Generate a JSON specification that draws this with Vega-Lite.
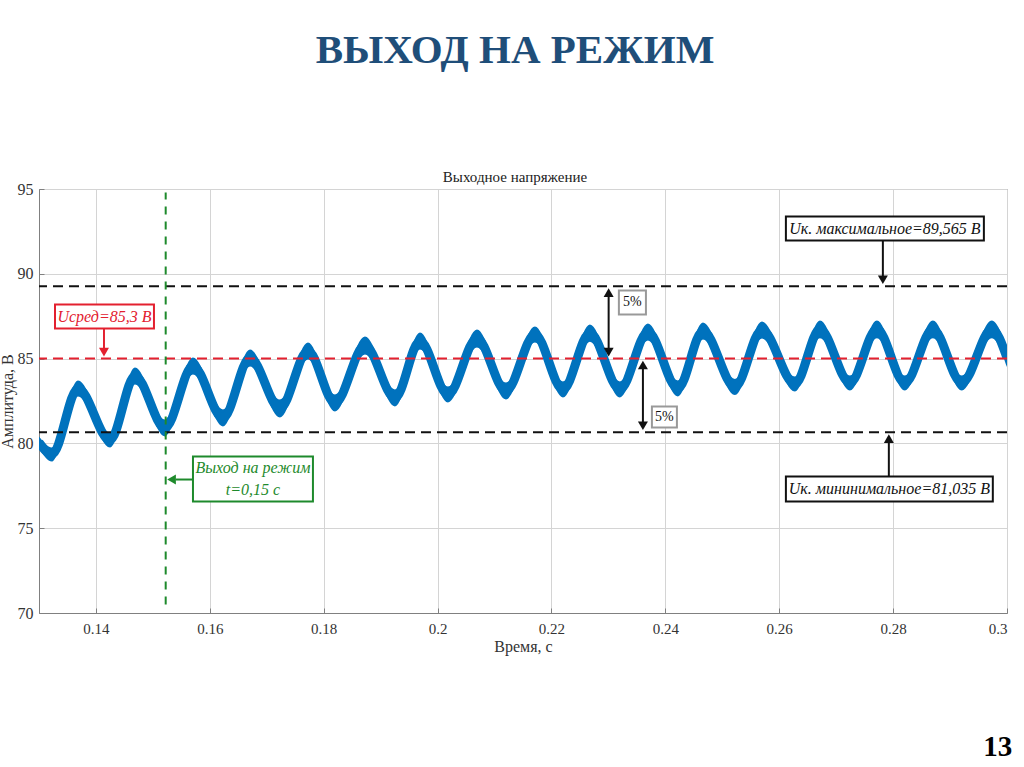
{
  "$schema": "https://vega.github.io/schema/vega-lite/v6.json",
  "autosize": {"type": "none"},
  "width": 968,
  "height": 424,
  "padding": {"left": 39, "top": 189, "right": 17, "bottom": 154},
  "background": "white",
  "config": {
    "view": {"stroke": "#808080", "strokeWidth": 1},
    "font": "Liberation Serif"
  },
  "title": {
    "text": "ВЫХОД НА РЕЖИМ",
    "subtitle": "Выходное напряжение",
    "font": "Liberation Serif",
    "fontSize": 41,
    "fontWeight": "bold",
    "color": "#1F4E79",
    "subtitleFont": "Liberation Serif",
    "subtitleFontSize": 15,
    "subtitleColor": "#222222",
    "subtitlePadding": 98,
    "offset": -5,
    "dx": -8,
    "anchor": "middle"
  },
  "datasets": {
    "band": [
      {"t": 0.1300, "lo": 79.70, "hi": 80.41, "mid": 80.06},
      {"t": 0.13228, "lo": 78.93, "hi": 79.76, "mid": 79.35},
      {"t": 0.13685, "lo": 82.77, "hi": 83.71, "mid": 83.24},
      {"t": 0.14247, "lo": 79.76, "hi": 80.64, "mid": 80.20},
      {"t": 0.14686, "lo": 83.47, "hi": 84.48, "mid": 83.98},
      {"t": 0.15212, "lo": 80.41, "hi": 81.41, "mid": 80.91},
      {"t": 0.15704, "lo": 84.06, "hi": 85.06, "mid": 84.56},
      {"t": 0.16231, "lo": 81.00, "hi": 82.00, "mid": 81.50},
      {"t": 0.16705, "lo": 84.53, "hi": 85.54, "mid": 85.04},
      {"t": 0.17232, "lo": 81.53, "hi": 82.59, "mid": 82.06},
      {"t": 0.17723, "lo": 84.95, "hi": 85.95, "mid": 85.45},
      {"t": 0.18198, "lo": 81.88, "hi": 82.88, "mid": 82.38},
      {"t": 0.18724, "lo": 85.24, "hi": 86.30, "mid": 85.77},
      {"t": 0.19251, "lo": 82.18, "hi": 83.18, "mid": 82.68},
      {"t": 0.19690, "lo": 85.54, "hi": 86.54, "mid": 86.04},
      {"t": 0.20182, "lo": 82.41, "hi": 83.35, "mid": 82.88},
      {"t": 0.20691, "lo": 85.65, "hi": 86.72, "mid": 86.19},
      {"t": 0.21200, "lo": 82.59, "hi": 83.59, "mid": 83.09},
      {"t": 0.21709, "lo": 85.95, "hi": 86.89, "mid": 86.42},
      {"t": 0.22201, "lo": 82.71, "hi": 83.65, "mid": 83.18},
      {"t": 0.22675, "lo": 86.00, "hi": 87.01, "mid": 86.51},
      {"t": 0.23202, "lo": 82.71, "hi": 83.65, "mid": 83.18},
      {"t": 0.23694, "lo": 86.07, "hi": 87.07, "mid": 86.57},
      {"t": 0.24220, "lo": 82.77, "hi": 83.71, "mid": 83.24},
      {"t": 0.24660, "lo": 86.13, "hi": 87.13, "mid": 86.63},
      {"t": 0.25222, "lo": 82.85, "hi": 83.80, "mid": 83.33},
      {"t": 0.25695, "lo": 86.19, "hi": 87.19, "mid": 86.69},
      {"t": 0.26275, "lo": 83.06, "hi": 83.94, "mid": 83.50},
      {"t": 0.26714, "lo": 86.20, "hi": 87.25, "mid": 86.73},
      {"t": 0.27241, "lo": 83.12, "hi": 84.00, "mid": 83.56},
      {"t": 0.27715, "lo": 86.20, "hi": 87.25, "mid": 86.73},
      {"t": 0.28206, "lo": 83.12, "hi": 84.00, "mid": 83.56},
      {"t": 0.28698, "lo": 86.20, "hi": 87.25, "mid": 86.73},
      {"t": 0.29207, "lo": 83.12, "hi": 84.00, "mid": 83.56},
      {"t": 0.29734, "lo": 86.20, "hi": 87.25, "mid": 86.73},
      {"t": 0.3000, "lo": 84.50, "hi": 85.60, "mid": 85.05}
    ],
    "levels": [
      {"who": "max", "v": 89.27},
      {"who": "avg", "v": 85.0},
      {"who": "min", "v": 80.66}
    ],
    "mode": [
      {"t": 0.15225, "y1": 70.5, "y2": 94.8}
    ],
    "boxes": [
      {"who": "avg", "x1": 0.13281, "x2": 0.15019, "y1": 86.77, "y2": 88.19, "text": "Uсред=85,3 В", "tx": 0.1415, "ty": 87.48},
      {"who": "mode", "x1": 0.15704, "x2": 0.17811, "y1": 76.57, "y2": 79.23, "text": "Выход на режим\nt=0,15 с", "tx": 0.16757, "ty": 78.55},
      {"who": "max", "x1": 0.26117, "x2": 0.29594, "y1": 91.96, "y2": 93.38, "text": "Uк. максимальное=89,565 В", "tx": 0.27856, "ty": 92.67},
      {"who": "min", "x1": 0.26117, "x2": 0.29751, "y1": 76.57, "y2": 78.05, "text": "Uк. мининимальное=81,035 В", "tx": 0.27934, "ty": 77.31},
      {"who": "pct", "x1": 0.23184, "x2": 0.23659, "y1": 87.60, "y2": 89.02, "text": "5%", "tx": 0.23421, "ty": 88.31},
      {"who": "pct", "x1": 0.23764, "x2": 0.24203, "y1": 80.94, "y2": 82.18, "text": "5%", "tx": 0.23984, "ty": 81.56}
    ],
    "arrows": [
      {"who": "avg", "x1": 0.14141, "x2": 0.14141, "y1": 86.77, "y2": 85.5},
      {"who": "mode", "x1": 0.15704, "x2": 0.1540, "y1": 77.87, "y2": 77.87},
      {"who": "max", "x1": 0.2782, "x2": 0.2782, "y1": 91.96, "y2": 89.8},
      {"who": "min", "x1": 0.27925, "x2": 0.27925, "y1": 78.05, "y2": 80.1},
      {"who": "pct", "x1": 0.23004, "x2": 0.23004, "y1": 88.8, "y2": 85.5},
      {"who": "pct", "x1": 0.23606, "x2": 0.23606, "y1": 84.5, "y2": 81.1}
    ],
    "heads": [
      {"who": "avg", "x": 0.14141, "y": 85.38, "dir": "down"},
      {"who": "mode", "x": 0.15328, "y": 77.87, "dir": "left"},
      {"who": "max", "x": 0.2782, "y": 89.65, "dir": "down"},
      {"who": "min", "x": 0.27925, "y": 80.28, "dir": "up"},
      {"who": "pct", "x": 0.23004, "y": 88.89, "dir": "up"},
      {"who": "pct", "x": 0.23004, "y": 85.38, "dir": "down"},
      {"who": "pct", "x": 0.23606, "y": 84.62, "dir": "up"},
      {"who": "pct", "x": 0.23606, "y": 81.04, "dir": "down"}
    ],
    "page": [
      {"x": 0.29839, "y": 62.07, "label": "13"}
    ]
  },
  "layer": [
    {
      "data": {"name": "band"},
      "mark": {"type": "area", "interpolate": "monotone", "color": "#0072BD", "clip": true},
      "encoding": {
        "x": {
          "field": "t", "type": "quantitative",
          "scale": {"domain": [0.13, 0.3], "nice": false, "zero": false},
          "axis": {
            "title": "Время, с",
            "values": [0.14, 0.16, 0.18, 0.2, 0.22, 0.24, 0.26, 0.28, 0.3],
            "format": ".2~f",
            "grid": true, "gridColor": "#d4d4d4", "gridWidth": 1,
            "domainColor": "#808080",
            "tickColor": "#808080", "tickSize": -5,
            "labelFont": "Liberation Serif", "labelFontSize": 15, "labelColor": "#333333",
            "labelPadding": 13,
            "titleFont": "Liberation Serif", "titleFontSize": 16, "titleFontWeight": "normal", "titleColor": "#333333",
            "titlePadding": 2
          }
        },
        "y": {
          "field": "hi", "type": "quantitative",
          "scale": {"domain": [70, 95], "nice": false, "zero": false},
          "axis": {
            "title": "Амплитуда, В",
            "values": [70, 75, 80, 85, 90, 95],
            "grid": true, "gridColor": "#d4d4d4", "gridWidth": 1,
            "domainColor": "#808080",
            "tickColor": "#808080", "tickSize": -5,
            "labelFont": "Liberation Serif", "labelFontSize": 16, "labelColor": "#333333",
            "labelPadding": 11,
            "titleFont": "Liberation Serif", "titleFontSize": 16, "titleFontWeight": "normal", "titleColor": "#333333",
            "titlePadding": 2
          }
        },
        "y2": {"field": "lo"}
      }
    },
    {
      "data": {"name": "band"},
      "mark": {"type": "line", "interpolate": "monotone", "color": "#0072BD", "strokeWidth": 9, "strokeCap": "butt", "clip": true},
      "encoding": {
        "x": {"field": "t", "type": "quantitative"},
        "y": {"field": "mid", "type": "quantitative"}
      }
    },
    {
      "data": {"name": "levels"},
      "mark": {"type": "rule", "strokeDash": [10, 6], "strokeWidth": 2},
      "encoding": {
        "y": {"field": "v", "type": "quantitative"},
        "color": {
          "field": "who", "type": "nominal", "legend": null,
          "scale": {"domain": ["avg", "mode", "max", "min", "pct"], "range": ["#E3202F", "#1E8A2C", "#111111", "#111111", "#111111"]}
        }
      }
    },
    {
      "data": {"name": "mode"},
      "mark": {"type": "rule", "strokeDash": [8, 7], "strokeWidth": 2, "color": "#1E8A2C"},
      "encoding": {
        "x": {"field": "t", "type": "quantitative"},
        "y": {"field": "y1", "type": "quantitative"},
        "y2": {"field": "y2"}
      }
    },
    {
      "data": {"name": "arrows"},
      "mark": {"type": "rule", "strokeWidth": 2},
      "encoding": {
        "x": {"field": "x1", "type": "quantitative"},
        "x2": {"field": "x2"},
        "y": {"field": "y1", "type": "quantitative"},
        "y2": {"field": "y2"},
        "color": {"field": "who", "type": "nominal", "legend": null}
      }
    },
    {
      "data": {"name": "heads"},
      "mark": {"type": "point", "filled": true, "size": 100, "opacity": 1},
      "encoding": {
        "x": {"field": "x", "type": "quantitative"},
        "y": {"field": "y", "type": "quantitative"},
        "shape": {
          "field": "dir", "type": "nominal", "legend": null,
          "scale": {"domain": ["up", "down", "left"], "range": ["triangle-up", "triangle-down", "triangle-left"]}
        },
        "color": {"field": "who", "type": "nominal", "legend": null}
      }
    },
    {
      "data": {"name": "boxes"},
      "mark": {"type": "rect", "fill": "white", "strokeWidth": 2},
      "encoding": {
        "x": {"field": "x1", "type": "quantitative"},
        "x2": {"field": "x2"},
        "y": {"field": "y1", "type": "quantitative"},
        "y2": {"field": "y2"},
        "stroke": {
          "field": "who", "type": "nominal", "legend": null,
          "scale": {"domain": ["avg", "mode", "max", "min", "pct"], "range": ["#E3202F", "#1E8A2C", "#111111", "#111111", "#999999"]}
        }
      }
    },
    {
      "data": {"name": "boxes"},
      "transform": [{"filter": "datum.who != 'pct'"}],
      "mark": {"type": "text", "font": "Liberation Serif", "fontStyle": "italic", "fontSize": 16, "lineBreak": "\n", "lineHeight": 22, "align": "center", "baseline": "middle"},
      "encoding": {
        "x": {"field": "tx", "type": "quantitative"},
        "y": {"field": "ty", "type": "quantitative"},
        "text": {"field": "text"},
        "color": {"field": "who", "type": "nominal", "legend": null}
      }
    },
    {
      "data": {"name": "boxes"},
      "transform": [{"filter": "datum.who == 'pct'"}],
      "mark": {"type": "text", "font": "Liberation Serif", "fontSize": 14, "align": "center", "baseline": "middle"},
      "encoding": {
        "x": {"field": "tx", "type": "quantitative"},
        "y": {"field": "ty", "type": "quantitative"},
        "text": {"field": "text"},
        "color": {"field": "who", "type": "nominal", "legend": null}
      }
    },
    {
      "data": {"name": "page"},
      "mark": {"type": "text", "font": "Liberation Serif", "fontSize": 29, "fontWeight": "bold", "color": "#000000", "align": "center", "baseline": "middle"},
      "encoding": {
        "x": {"field": "x", "type": "quantitative"},
        "y": {"field": "y", "type": "quantitative"},
        "text": {"field": "label"}
      }
    }
  ]
}
